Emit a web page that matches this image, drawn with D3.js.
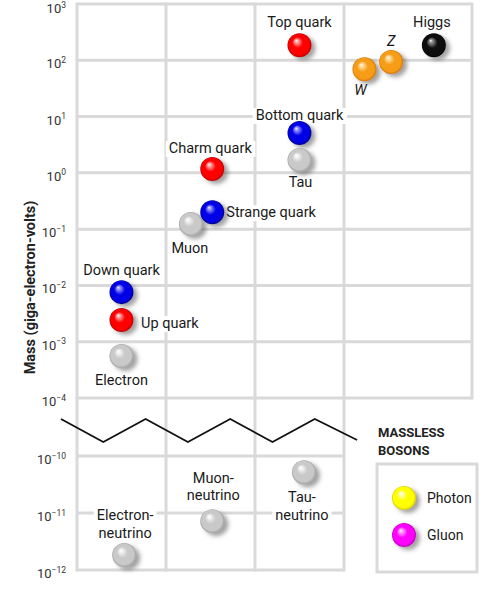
<!DOCTYPE html>
<html>
<head>
<meta charset="utf-8">
<script src="https://cdn.jsdelivr.net/npm/d3@7/dist/d3.min.js"></script>
<style>
  html, body { margin: 0; padding: 0; background: #fff; }
  svg { display: block; }
  text { font-family: Roboto, "Open Sans", Arial, sans-serif; }
</style>
</head>
<body>
<svg id="chart" width="500" height="604"></svg>
<script>
// ---------------- DATA ----------------
const upperExponents = [3, 2, 1, 0, -1, -2, -3, -4];
const lowerExponents = [-10, -11, -12];

const particleNames = ["Up quark", "Down quark", "Electron", "Charm quark", "Muon", "Strange quark",
                       "Top quark", "Bottom quark", "Tau", "W", "Z", "Higgs"];
const particleColumns = [1, 1, 1, 2.02, 1.78, 2.02, 3, 3, 3, 3.73, 4.03, 4.51];
const particleMassesGeV = [0.00243, 0.0076, 0.000557, 1.17, 0.123, 0.20, 185, 5.1, 1.69, 69, 93, 185];
const particleKinds = ["up", "down", "lepton", "up", "lepton", "down", "up", "down", "lepton", "boson", "boson", "higgs"];

const neutrinoNames = ["Electron-neutrino", "Muon-neutrino", "Tau-neutrino"];
const neutrinoColumns = [1.03, 2.02, 3.05];
const neutrinoMassesGeV = [1.83e-12, 7.2e-12, 5.2e-11];

const masslessNames = ["Photon", "Gluon"];
const masslessKinds = ["photon", "gluon"];

// ---------------- STYLE / LAYOUT ----------------
const palette = {
  up:     { hi: "#ffb0b0", base: "#ff0000", dark: "#b80000" },
  down:   { hi: "#a0a0ff", base: "#0000e6", dark: "#000088" },
  lepton: { hi: "#f4f4f4", base: "#c9c9c9", dark: "#a2a2a2" },
  boson:  { hi: "#ffe2a8", base: "#f79c17", dark: "#d27800" },
  higgs:  { hi: "#9a9a9a", base: "#111111", dark: "#000000" },
  photon: { hi: "#ffffc0", base: "#ffff00", dark: "#d8c800" },
  gluon:  { hi: "#ffb0ff", base: "#ff00ff", dark: "#b800b8" }
};
const labelLayout = {
  "Up quark":      { dx: 19.5, dy: [8],  anchor: "start" },
  "Down quark":    { dx: 0,    dy: [-17] },
  "Electron":      { dx: 0,    dy: [29] },
  "Charm quark":   { dx: -2,   dy: [-16] },
  "Muon":          { dx: -1,   dy: [29] },
  "Strange quark": { dx: 14,   dy: [5],  anchor: "start" },
  "Top quark":     { dx: 0,    dy: [-18] },
  "Bottom quark":  { dx: 0,    dy: [-13] },
  "Tau":           { dx: 1,    dy: [27] },
  "W":             { dx: -4,   dy: [25.5], italic: true },
  "Z":             { dx: 0,    dy: [-16], italic: true },
  "Higgs":         { dx: -2,   dy: [-18] },
  "Electron-neutrino": { dx: 1,  dy: [-35, -17], lines: ["Electron-", "neutrino"] },
  "Muon-neutrino":     { dx: 1,  dy: [-38, -21], lines: ["Muon-", "neutrino"] },
  "Tau-neutrino":      { dx: -2, dy: [30, 48],   lines: ["Tau-", "neutrino"] }
};

const left = 77, upperTop = 4, upperBottom = 398, lowerTop = 456, lowerBottom = 570;
const colRightUpper = 472;
const R = 12;
const gridColor = "#d9d9d9";

const x = d3.scaleLinear().domain([0.5, 3.5]).range([left, 344]);
const yU = d3.scaleLog().domain([1e-4, 1e3]).range([upperBottom, upperTop]);
const yL = d3.scaleLog().domain([1e-12, 1e-10]).range([lowerBottom, lowerTop]);

const svg = d3.select("#chart");
const defs = svg.append("defs");

// gradients
Object.entries(palette).forEach(([k, c]) => {
  const g = defs.append("radialGradient").attr("id", "g-" + k)
    .attr("cx", "50%").attr("cy", "50%").attr("r", "50%")
    .attr("fx", "36%").attr("fy", "30%");
  g.append("stop").attr("offset", "0%").attr("stop-color", "#ffffff");
  g.append("stop").attr("offset", "12%").attr("stop-color", c.hi);
  g.append("stop").attr("offset", "45%").attr("stop-color", c.base);
  g.append("stop").attr("offset", "85%").attr("stop-color", c.base);
  g.append("stop").attr("offset", "100%").attr("stop-color", c.dark);
});
const f = defs.append("filter").attr("id", "shadow")
  .attr("x", "-50%").attr("y", "-50%").attr("width", "200%").attr("height", "200%");
f.append("feDropShadow").attr("dx", 4).attr("dy", 3).attr("stdDeviation", 2.2)
  .attr("flood-color", "#555").attr("flood-opacity", 0.55);

// ---------------- GRID ----------------
const grid = svg.append("g").attr("stroke", gridColor).attr("stroke-width", 3).attr("fill", "none");
grid.selectAll("line.hu").data(upperExponents).join("line")
  .attr("x1", left).attr("x2", colRightUpper)
  .attr("y1", e => yU(Math.pow(10, e))).attr("y2", e => yU(Math.pow(10, e)));
grid.selectAll("line.hl").data(lowerExponents).join("line")
  .attr("x1", left).attr("x2", x(3.5))
  .attr("y1", e => yL(Math.pow(10, e))).attr("y2", e => yL(Math.pow(10, e)));
grid.selectAll("line.v").data([0.5, 1.5, 2.5, 3.5]).join("line")
  .attr("x1", d => x(d)).attr("x2", d => x(d))
  .attr("y1", upperTop - 1.5).attr("y2", lowerBottom + 1.5);
grid.append("line").attr("x1", colRightUpper).attr("x2", colRightUpper)
  .attr("y1", upperTop - 1.5).attr("y2", upperBottom + 1.5);

// ---------------- TICK LABELS ----------------
function tickLabel(g, e, y) {
  const t = g.append("text").attr("x", 66).attr("y", Math.max(y + 8, 13))
    .attr("text-anchor", "end").attr("font-size", 13).attr("fill", "#333");
  t.append("tspan").text("10");
  t.append("tspan").attr("dy", -5.5).attr("font-size", 8.5)
    .text(e < 0 ? "\u2212" + Math.abs(e) : String(e));
}
const ticks = svg.append("g");
upperExponents.forEach(e => tickLabel(ticks, e, yU(Math.pow(10, e))));
lowerExponents.forEach(e => tickLabel(ticks, e, yL(Math.pow(10, e))));

// axis title
svg.append("text")
  .attr("transform", `translate(35,${(200 + 375) / 2}) rotate(-90)`)
  .attr("text-anchor", "middle").attr("font-size", 14.5).attr("font-weight", "bold")
  .attr("fill", "#222").text("Mass (giga-electron-volts)");

// ---------------- BREAK ZIGZAG ----------------
const zigX = d3.range(8).map(i => 61 + i * 42.3);
const zigPts = zigX.map((xx, i) => [xx, i % 2 === 0 ? 419 : 442]);
zigPts[7][1] = 440;
svg.append("path").attr("d", d3.line()(zigPts))
  .attr("fill", "none").attr("stroke", "#111").attr("stroke-width", 1.8);

// ---------------- PARTICLES ----------------
const balls = particleNames.map((n, i) => ({
  name: n, cx: x(particleColumns[i]), cy: yU(particleMassesGeV[i]), kind: particleKinds[i]
})).concat(neutrinoNames.map((n, i) => ({
  name: n, cx: x(neutrinoColumns[i]), cy: yL(neutrinoMassesGeV[i]), kind: "lepton"
})));

const labelG = svg.append("g");
balls.forEach(b => {
  const L = labelLayout[b.name];
  const lines = L.lines || [b.name];
  const g = labelG.append("g");
  const bg = g.append("g");
  const texts = lines.map((ln, j) => g.append("text")
    .attr("x", b.cx + L.dx).attr("y", b.cy + L.dy[j])
    .attr("text-anchor", L.anchor || "middle")
    .attr("font-size", 14.5).attr("fill", "#1a1a1a")
    .attr("font-style", L.italic ? "italic" : "normal")
    .text(ln));
  texts.forEach(t => {
    const bb = t.node().getBBox();
    bg.append("rect").attr("x", bb.x - 3).attr("y", bb.y + 1)
      .attr("width", bb.width + 6).attr("height", bb.height - 1).attr("fill", "#fff");
  });
});

svg.append("g").selectAll("circle").data(balls).join("circle")
  .attr("cx", d => d.cx).attr("cy", d => d.cy).attr("r", R)
  .attr("fill", d => `url(#g-${d.kind})`).attr("filter", "url(#shadow)");

// ---------------- MASSLESS BOSONS LEGEND ----------------
const lg = svg.append("g");
lg.append("text").attr("x", 378).attr("y", 437).attr("font-size", 13).attr("font-weight", "bold")
  .attr("fill", "#222").text("MASSLESS");
lg.append("text").attr("x", 378).attr("y", 455).attr("font-size", 13).attr("font-weight", "bold")
  .attr("fill", "#222").text("BOSONS");
lg.append("rect").attr("x", 377).attr("y", 464).attr("width", 100).attr("height", 108)
  .attr("fill", "none").attr("stroke", gridColor).attr("stroke-width", 3);
const legY = d3.scalePoint().domain(masslessNames).range([498, 535]);
masslessNames.forEach((n, i) => {
  lg.append("circle").attr("cx", 404).attr("cy", legY(n)).attr("r", R)
    .attr("fill", `url(#g-${masslessKinds[i]})`).attr("filter", "url(#shadow)");
  lg.append("text").attr("x", 427).attr("y", legY(n) + 5).attr("font-size", 14)
    .attr("fill", "#1a1a1a").text(n);
});
</script>
</body>
</html>
